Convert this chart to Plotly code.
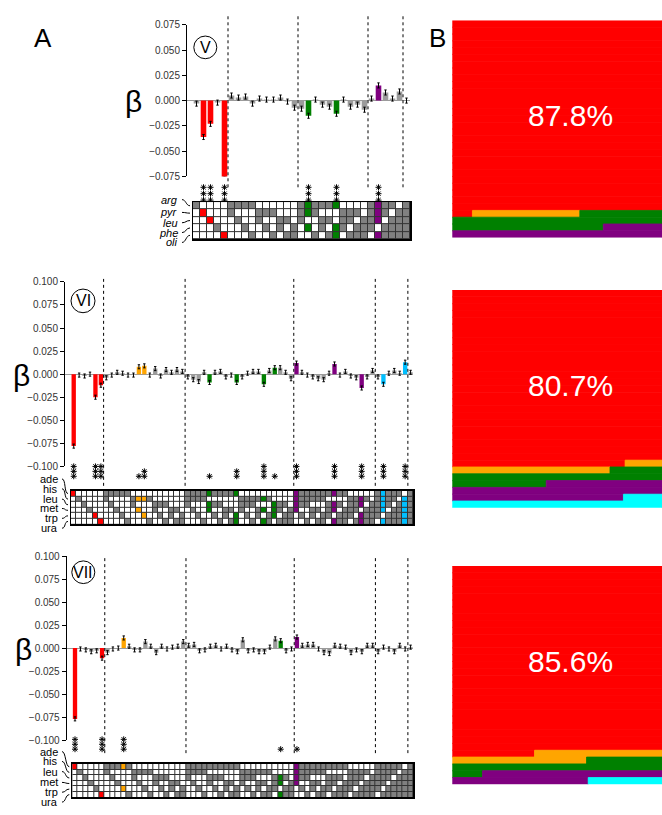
import plotly.graph_objects as go

W, H = 662, 815
FONT = "Liberation Sans, Arial, Helvetica, sans-serif"


def px(x):
    return x / W


def py(y):
    return 1 - y / H


# ---------------- data ----------------
V_loci = ["arg", "pyr", "leu", "phe", "oli"]
V_terms = ["0", "1", "2", "3", "4",
           "01", "02", "03", "04", "12", "13", "14", "23", "24", "34",
           "012", "013", "014", "023", "024", "034", "123", "124", "134", "234",
           "0123", "0124", "0134", "0234", "1234", "01234"]
V_beta = [-0.003, -0.036, -0.023, -0.002, -0.078, 0.005, 0.003, 0.004, -0.003, 0.002,
          0.001, 0.001, 0.003, -0.001, -0.007, -0.008, -0.015, 0.001, -0.004, -0.006,
          -0.013, 0.001, -0.006, -0.004, -0.009, 0.002, 0.015, 0.008, 0.002, 0.009, 0.000]
V_sig_cols = [1, 2, 4, 16, 20, 26]
V_sig_colors = ["red", "red", "red", "green", "green", "purple"]
V_sig_stars = [3, 3, 3, 3, 3, 3]
V_dividers = [4.5, 14.5, 24.5, 29.5]

VI_loci = ["ade", "his", "leu", "met", "trp", "ura"]
VI_terms = ["0", "1", "2", "3", "4", "5",
            "01", "02", "03", "04", "05", "12", "13", "14", "15", "23", "24", "25", "34", "35", "45",
            "012", "013", "014", "015", "023", "024", "025", "034", "035", "045",
            "123", "124", "125", "134", "135", "145", "234", "235", "245", "345",
            "0123", "0124", "0125", "0134", "0135", "0145", "0234", "0235", "0245", "0345",
            "1234", "1235", "1245", "1345", "2345",
            "01234", "01235", "01245", "01345", "02345", "12345", "012345"]
VI_beta = [-0.078, -0.001, -0.002, 0.000, -0.025, -0.012, -0.004, -0.001, 0.002, 0.001,
           -0.001, -0.001, 0.008, 0.009, -0.001, 0.006, -0.002, 0.005, 0.002, 0.005, 0.003,
           -0.003, -0.006, -0.008, 0.002, -0.009, 0.002, 0.003, -0.003, -0.001, -0.009,
           -0.003, 0.001, 0.003, 0.003, -0.011, 0.004, 0.007, 0.007, 0.002, -0.005,
           0.012, 0.002, -0.001, -0.003, -0.005, -0.006, 0.001, 0.011, -0.001, 0.003,
           -0.002, -0.004, -0.015, -0.003, 0.004,
           -0.003, -0.011, 0.001, 0.004, 0.001, 0.013, 0.002]
VI_sig_cols = [0, 4, 5, 12, 13, 25, 30, 35, 37, 41, 48, 53, 57, 61]
VI_sig_colors = ["red", "red", "red", "orange", "orange", "green", "green", "green", "green",
                 "purple", "purple", "purple", "blue", "blue"]
VI_sig_stars = [3, 3, 3, 1, 2, 1, 2, 3, 1, 3, 3, 3, 3, 3]
VI_dividers = [5.5, 20.5, 40.5, 55.5, 61.5]

VII_loci = VI_loci
VII_terms = VI_terms
VII_beta = [-0.077, -0.001, -0.002, -0.004, -0.003, -0.011, -0.005, -0.001, 0.000, 0.011,
            0.002, -0.002, -0.002, 0.007, 0.002, -0.005, 0.002, -0.001, 0.001, 0.002, 0.007,
            0.003, 0.004, -0.003, -0.002, 0.002, 0.003, -0.001, 0.002, -0.002, -0.004,
            0.009, -0.003, -0.002, -0.004, -0.004, 0.001, 0.010, 0.008, -0.003, -0.001,
            0.012, 0.003, 0.004, 0.004, -0.001, -0.005, -0.006, 0.003, 0.002, 0.001,
            -0.005, -0.002, -0.004, 0.003, 0.003,
            -0.004, 0.001, -0.001, -0.004, 0.003, -0.001, 0.001]
VII_sig_cols = [0, 5, 9, 38, 41]
VII_sig_colors = ["red", "red", "orange", "green", "purple"]
VII_sig_stars = [3, 3, 3, 1, 1]
VII_dividers = [5.5, 20.5, 40.5, 55.5, 61.5]

B_rows = 32
B_V_colors = ["red", "orange", "green", "purple"]
B_V_share = [87.8, 1.6, 6.6, 4.0]
B_VI_colors = ["red", "orange", "green", "purple", "cyan"]
B_VI_share = [80.7, 2.9, 5.3, 7.4, 3.7]
B_VII_colors = ["red", "orange", "green", "purple", "cyan"]
B_VII_share = [85.6, 3.9, 4.7, 4.7, 1.1]
B_labels = ["87.8%", "80.7%", "85.6%"]

# ---------------- style ----------------
PALETTE = {"red": "#ff0000", "orange": "#ffa500", "green": "#008000",
           "purple": "#800080", "blue": "#00bfff", "cyan": "#00ffff"}
BAR_GRAY = "#9b9b9b"
HEAT_ORDER = ["white", "gray", "red", "orange", "green", "purple", "blue"]
HEAT_COLORS = ["#ffffff", "#808080", "#ff0000", "#ffa500", "#008000", "#800080", "#00bfff"]

panels = [
    dict(loci=V_loci, terms=V_terms, beta=V_beta, sig=V_sig_cols, sigc=V_sig_colors,
         stars=V_sig_stars, div=V_dividers, err=0.0025, italic=True,
         bar_x=(187, 410), bar_y=(19, 173), yr=(-0.075, 0.075),
         heat_x=(193, 410), heat_y=(199, 236.5),
         label_x=180, label_y=[196.5, 209.5, 220, 230, 240],
         beta_pos=(133, 97), circle=(205.3, 42, 11.5), numeral="V",
         star_y0=197, star_dy=6.5, div_ext=(184, 8)),
    dict(loci=VI_loci, terms=VI_terms, beta=VI_beta, sig=VI_sig_cols, sigc=VI_sig_colors,
         stars=VI_sig_stars, div=VI_dividers, err=0.0022, italic=False,
         bar_x=(65, 413.3), bar_y=(280, 467.3), yr=(-0.1, 0.1),
         heat_x=(71, 413.3), heat_y=(492, 526),
         label_x=60, label_y=[480, 490, 500.5, 510, 520, 530],
         beta_pos=(21.7, 375), circle=(83, 299.3, 12), numeral="VI",
         star_y0=477.3, star_dy=5, div_ext=(487, 277)),
    dict(loci=VII_loci, terms=VII_terms, beta=VII_beta, sig=VII_sig_cols, sigc=VII_sig_colors,
         stars=VII_sig_stars, div=VII_dividers, err=0.0022, italic=False,
         bar_x=(66.7, 413.3), bar_y=(558.3, 745), yr=(-0.1, 0.1),
         heat_x=(72.3, 413.3), heat_y=(769.3, 803.3),
         label_x=60, label_y=[756.7, 766.7, 777, 788, 798, 808],
         beta_pos=(23, 653), circle=(83.3, 574.7, 11.5), numeral="VII",
         star_y0=754.3, star_dy=5, div_ext=(758.3, 558.3)),
]

b_panels = [
    dict(colors=B_V_colors, share=B_V_share, label=B_labels[0], box_y=(14.7, 235)),
    dict(colors=B_VI_colors, share=B_VI_share, label=B_labels[1], box_y=(288.3, 509.3)),
    dict(colors=B_VII_colors, share=B_VII_share, label=B_labels[2], box_y=(568.3, 790)),
]
B_X = (452.3, 662)

fig = go.Figure()
layout = dict(width=W, height=H, autosize=False, margin=dict(l=0, r=0, t=0, b=0, pad=0),
              paper_bgcolor="white", plot_bgcolor="rgba(0,0,0,0)", showlegend=False,
              barmode="overlay", hovermode=False, font=dict(family=FONT))
shapes = []
annotations = []

hidden = dict(showline=False, showticklabels=False, showgrid=False, zeroline=False, ticks="")

ax = 0


def axname(i):
    return ("xaxis" if i == 1 else f"xaxis{i}"), ("yaxis" if i == 1 else f"yaxis{i}"), \
           ("x" if i == 1 else f"x{i}"), ("y" if i == 1 else f"y{i}")


for p in panels:
    n = len(p["terms"])
    nl = len(p["loci"])
    colw = (p["heat_x"][1] - p["heat_x"][0]) / n
    # ---------- bars ----------
    ax += 1
    xk, yk, xr, yr_ = axname(ax)
    bar_xr = xr
    left_extra = (p["heat_x"][0] - p["bar_x"][0]) / colw
    layout[xk] = dict(domain=[px(p["bar_x"][0]), px(p["bar_x"][1])],
                      range=[-0.5 - left_extra, n - 0.5], anchor=yr_, **hidden)
    y0, y1 = p["yr"]
    tv = []
    v = y0
    while v <= y1 + 1e-9:
        tv.append(round(v, 3))
        v += 0.025
    layout[yk] = dict(domain=[py(p["bar_y"][1]), py(p["bar_y"][0])], range=[y0, y1],
                      anchor=xr, showline=True, linecolor="black", linewidth=1,
                      ticks="outside", ticklen=4, tickcolor="black", tickwidth=1,
                      tickvals=tv, tickformat=".3f", showgrid=False,
                      zeroline=True, zerolinecolor="#9a9a9a", zerolinewidth=1,
                      tickfont=dict(size=10, color="#333333", family=FONT))
    colors = [BAR_GRAY] * n
    for c, cn in zip(p["sig"], p["sigc"]):
        colors[c] = PALETTE[cn]
    fig.add_trace(go.Bar(x=list(range(n)), y=p["beta"], width=0.8,
                         marker=dict(color=colors, line=dict(width=0)),
                         error_y=dict(type="constant", value=p["err"], color="black",
                                      thickness=1, width=1.2),
                         cliponaxis=False, xaxis=xr, yaxis=yr_))
    span_px = p["bar_y"][1] - p["bar_y"][0]
    # dividers
    lo = (p["bar_y"][1] - p["div_ext"][0]) / span_px
    hi = (p["bar_y"][1] - p["div_ext"][1]) / span_px
    for d in p["div"]:
        shapes.append(dict(type="line", xref=xr, yref=f"{yr_} domain", x0=d, x1=d,
                           y0=lo, y1=hi, line=dict(color="black", width=1, dash="dot")))
    # ---------- significance stars (own pixel-scaled axis) ----------
    ax += 1
    sxk, syk, sxr, syr = axname(ax)
    s_bot = p["star_y0"] + 5
    s_top = p["star_y0"] - 3 * p["star_dy"] - 3
    layout[syk] = dict(domain=[py(s_bot), py(s_top)], range=[s_bot, s_top],
                       anchor=bar_xr, **hidden)
    layout[sxk] = dict(domain=[0, 0.001], range=[0, 1], anchor=syr, visible=False)
    sx, sy = [], []
    for c, k in zip(p["sig"], p["stars"]):
        for j in range(k):
            sx.append(c)
            sy.append(p["star_y0"] - j * p["star_dy"])
    fig.add_trace(go.Scatter(x=sx, y=sy, mode="markers", cliponaxis=False,
                             marker=dict(symbol="asterisk-open", size=5,
                                         line=dict(width=1, color="black"), color="black"),
                             xaxis=bar_xr, yaxis=syr))
    # beta label
    annotations.append(dict(x=px(p["beta_pos"][0]), y=py(p["beta_pos"][1]), xref="paper",
                            yref="paper", text="β", showarrow=False,
                            font=dict(size=30, color="black", family=FONT),
                            xanchor="center", yanchor="middle"))
    # numeral circle
    cx, cy, r = p["circle"]
    shapes.append(dict(type="circle", xref="paper", yref="paper",
                       x0=px(cx - r), x1=px(cx + r), y0=py(cy + r), y1=py(cy - r),
                       line=dict(color="black", width=1)))
    annotations.append(dict(x=px(cx), y=py(cy), xref="paper", yref="paper",
                            text=p["numeral"], showarrow=False,
                            font=dict(size=16, color="black", family=FONT),
                            xanchor="center", yanchor="middle"))
    # ---------- heatmap ----------
    ax += 1
    xk, yk, xr, yr_ = axname(ax)
    layout[xk] = dict(domain=[px(p["heat_x"][0]), px(p["heat_x"][1])], range=[-0.5, n - 0.5],
                      anchor=yr_, showline=True, mirror=True, linecolor="black", linewidth=1.5,
                      showticklabels=False, showgrid=False, zeroline=False, ticks="")
    layout[yk] = dict(domain=[py(p["heat_y"][1]), py(p["heat_y"][0])], range=[nl - 0.5, -0.5],
                      anchor=xr, showline=True, mirror=True, linecolor="black", linewidth=1.5,
                      showticklabels=False, showgrid=False, zeroline=False, ticks="")
    z = [[0] * n for _ in range(nl)]
    for j, t in enumerate(p["terms"]):
        for ch in t:
            z[int(ch)][j] = 1
    for c, cn in zip(p["sig"], p["sigc"]):
        for ch in p["terms"][c]:
            z[int(ch)][c] = HEAT_ORDER.index(cn)
    cs = []
    m = len(HEAT_COLORS)
    for i, col in enumerate(HEAT_COLORS):
        cs.append([i / m, col])
        cs.append([(i + 1) / m, col])
    fig.add_trace(go.Heatmap(z=z, x=list(range(n)), y=list(range(nl)), colorscale=cs,
                             zmin=-0.5, zmax=m - 0.5, showscale=False, xgap=1, ygap=1,
                             xaxis=xr, yaxis=yr_))
    shapes.append(dict(type="rect", xref=f"{xr} domain", yref=f"{yr_} domain",
                       x0=0, x1=1, y0=0, y1=1, fillcolor="#333333",
                       line=dict(width=0), layer="below"))
    # row labels and connectors
    rowh = (p["heat_y"][1] - p["heat_y"][0]) / nl
    for i, lab in enumerate(p["loci"]):
        ly = p["label_y"][i]
        ry = p["heat_y"][0] + rowh * (i + 0.5)
        txt = f"<i>{lab}</i>" if p["italic"] else lab
        annotations.append(dict(x=px(p["label_x"]), y=py(ly), xref="paper", yref="paper",
                                text=txt, showarrow=False, xanchor="right", yanchor="middle",
                                font=dict(size=11, color="black", family=FONT)))
        x0c = p["label_x"] + 2
        x1c = p["heat_x"][0] - 3
        path = (f"M {px(x0c)},{py(ly)} C {px(x0c + 4)},{py(ly)} "
                f"{px(x1c - 4)},{py(ry)} {px(x1c)},{py(ry)}")
        shapes.append(dict(type="path", xref="paper", yref="paper", path=path,
                           line=dict(color="black", width=1)))

# ---------------- panel B ----------------
for bp in b_panels:
    ax += 1
    xk, yk, xr, yr_ = axname(ax)
    layout[xk] = dict(domain=[px(B_X[0]), px(B_X[1])], range=[0, 1], anchor=yr_, **hidden)
    layout[yk] = dict(domain=[py(bp["box_y"][1]), py(bp["box_y"][0])],
                      range=[B_rows - 0.5, -0.5], anchor=xr, **hidden)
    total = sum(bp["share"])
    start = 0.0
    for cn, s in zip(bp["colors"], bp["share"]):
        end = start + s / total * B_rows
        rows, bases, lens = [], [], []
        r = int(start)
        while r < end - 1e-9:
            a = max(start, r)
            b = min(end, r + 1)
            rows.append(r)
            bases.append(a - r)
            lens.append(b - a)
            r += 1
        fig.add_trace(go.Bar(orientation="h", y=rows, x=lens, base=bases, width=1,
                             marker=dict(color=PALETTE[cn],
                                         line=dict(width=0.8, color=PALETTE[cn])),
                             cliponaxis=False, xaxis=xr, yaxis=yr_))
        start = end
    annotations.append(dict(x=0.565, y=13.5, xref=xr, yref=yr_, text=bp["label"],
                            showarrow=False, xanchor="center", yanchor="middle",
                            font=dict(size=30, color="white", family=FONT)))

annotations.append(dict(x=px(43.5), y=py(32.5), xref="paper", yref="paper", text="A",
                        showarrow=False, xanchor="center", yanchor="middle",
                        font=dict(size=26, color="black", family=FONT)))
annotations.append(dict(x=px(437.5), y=py(32.5), xref="paper", yref="paper", text="B",
                        showarrow=False, xanchor="center", yanchor="middle",
                        font=dict(size=26, color="black", family=FONT)))

layout["shapes"] = shapes
layout["annotations"] = annotations
fig.update_layout(**layout)

PAGE_FIX = (
    "var s=document.createElement('style');"
    "s.innerHTML='html,body{margin:0!important;padding:0!important;width:662px;height:815px;"
    "overflow:hidden;}';"
    "document.head.appendChild(s);"
    "var g=document.getElementsByClassName('plotly-graph-div')[0];"
    "g.style.position='absolute';g.style.left='0px';g.style.top='0px';"
    "g.style.margin='0px';"
)
fig.write_html("out.html",
               config={"displayModeBar": False, "staticPlot": True},
               post_script=PAGE_FIX)
